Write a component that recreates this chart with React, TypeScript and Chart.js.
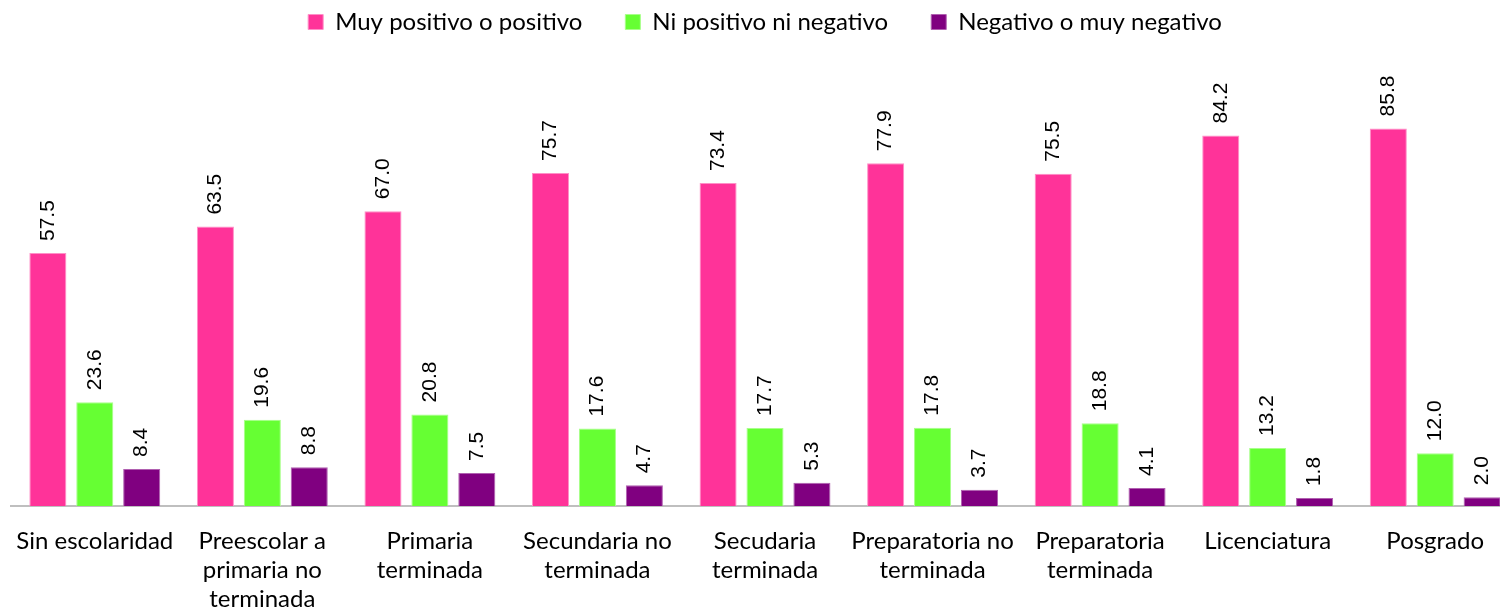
import React, { useEffect, useRef } from "react";
import { Chart, registerables } from "chart.js";

Chart.register(...registerables);

const categories: (string | string[])[] = [
  "Sin escolaridad",
  ["Preescolar a", "primaria no", "terminada"],
  ["Primaria", "terminada"],
  ["Secundaria no", "terminada"],
  ["Secudaria", "terminada"],
  ["Preparatoria no", "terminada"],
  ["Preparatoria", "terminada"],
  "Licenciatura",
  "Posgrado",
];
const seriesNames = ["Muy positivo o positivo", "Ni positivo ni negativo", "Negativo o muy negativo"];
const positivo = [57.5, 63.5, 67.0, 75.7, 73.4, 77.9, 75.5, 84.2, 85.8];
const neutro = [23.6, 19.6, 20.8, 17.6, 17.7, 17.8, 18.8, 13.2, 12.0];
const negativo = [8.4, 8.8, 7.5, 4.7, 5.3, 3.7, 4.1, 1.8, 2.0];
const colors = ["#FF3399", "#66FF33", "#800080"];
const borderColors = ["#FF8FC7", "#A8FF8A", "#B060B0"];

const valueLabels = {
  id: "valueLabels",
  afterDatasetsDraw(chart: any) {
    const ctx = chart.ctx;
    ctx.save();
    ctx.fillStyle = "#000";
    ctx.font = "21px 'Liberation Sans', Arial, sans-serif";
    ctx.textAlign = "left";
    ctx.textBaseline = "middle";
    chart.data.datasets.forEach((ds: any, i: number) => {
      const meta = chart.getDatasetMeta(i);
      meta.data.forEach((bar: any, j: number) => {
        const v = ds.data[j] as number;
        ctx.save();
        ctx.translate(bar.x, bar.y - 12);
        ctx.rotate(-Math.PI / 2);
        ctx.fillText(v.toFixed(1), 0, 0);
        ctx.restore();
      });
    });
    ctx.restore();
  },
};

export default function App() {
  const ref = useRef<HTMLCanvasElement>(null);
  useEffect(() => {
    document.body.style.overflow = "hidden";
    const data = [positivo, neutro, negativo];
    const chart = new Chart(ref.current!, {
      type: "bar",
      data: {
        labels: categories,
        datasets: seriesNames.map((name, i) => ({
          label: name,
          data: data[i],
          backgroundColor: colors[i],
          borderColor: borderColors[i],
          borderWidth: 1,
          categoryPercentage: 0.84,
          barPercentage: 0.79,
        })),
      },
      options: {
        animation: false,
        responsive: true,
        maintainAspectRatio: false,
        layout: { padding: { left: 11, right: 0, top: -33, bottom: 0 } },
        plugins: {
          tooltip: { enabled: false },
          legend: {
            position: "top",
            labels: {
              boxWidth: 15,
              boxHeight: 15,
              padding: 43,
              color: "#000",
              font: { family: "Lato, 'Open Sans', sans-serif", size: 24 },
            },
          },
        },
        scales: {
          x: {
            grid: { display: false },
            border: { display: true, color: "#BFBFBF", width: 2 },
            ticks: {
              color: "#000",
              maxRotation: 0,
              autoSkip: false,
              padding: 13,
              font: { family: "Lato, 'Open Sans', sans-serif", size: 24, lineHeight: 1.2 },
            },
            afterFit(scale: any) {
              scale.height = 107;
            },
          },
          y: {
            display: false,
            min: 0,
            max: 105,
          },
        },
      },
      plugins: [valueLabels],
    });
    return () => chart.destroy();
  }, []);
  return (
    <div style={{ position: "absolute", left: 0, top: 0, width: 1519, height: 613 }}>
      <canvas ref={ref} />
    </div>
  );
}
